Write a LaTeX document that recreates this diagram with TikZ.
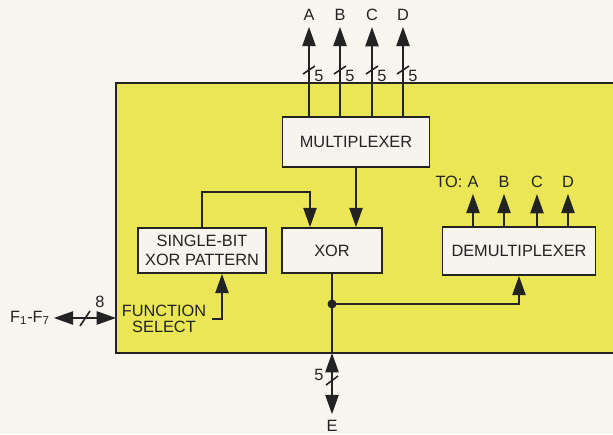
\documentclass[tikz,border=0pt]{standalone}
\usepackage{fontspec}
\setmainfont{Liberation Sans}
\usepackage{xcolor}
\definecolor{paper}{RGB}{247,245,238}
\definecolor{panelyel}{RGB}{234,230,86}
\definecolor{boxfill}{RGB}{246,244,236}
\definecolor{ink}{RGB}{35,35,35}
\usetikzlibrary{arrows.meta, positioning}

\tikzset{
  blk/.style={draw=ink, fill=boxfill, line width=1pt, align=center, inner sep=0pt,
              text=ink, font=\fontsize{9.3}{10.4}\selectfont},
  lbl/.style={text=ink, font=\fontsize{9.3}{10}\selectfont},
  wire/.style={draw=ink, line width=1.1pt},
  arr/.style={wire, -{Triangle[width=7.5pt,length=11pt]}},
  darr/.style={wire, {Triangle[width=7.5pt,length=11pt]}-{Triangle[width=7.5pt,length=11pt]}},
  slash/.style={draw=ink, line width=0.9pt},
}

\begin{document}
\begin{tikzpicture}[x=0.02cm, y=-0.02cm]
  \useasboundingbox (0,0) rectangle (613,434);
  \fill[paper] (0,0) rectangle (613,434);

  % Yellow panel (runs off the right edge)
  \fill[panelyel] (116,83) rectangle (613,353);
  \draw[ink, line width=1.2pt] (613,83) -- (116,83) -- (116,353) -- (613,353);
  \coordinate (fin) at (116,318);
  \coordinate (ebot) at (332,353);

  % --- Blocks ---
  \node[blk, minimum width=2.94cm, minimum height=1.0cm] (mux) at (356,142) {MULTIPLEXER};
  \node[blk, minimum width=2.0cm, minimum height=0.9cm] (xor) at (332,250.5) {XOR};
  \node[blk, minimum width=2.56cm, minimum height=0.9cm] (sbx) at (202,250.5) {SINGLE-BIT\\XOR PATTERN};
  \node[blk, minimum width=3.06cm, minimum height=0.96cm] (demux) at (519,251) {DEMULTIPLEXER};

  % --- Outputs A-D from multiplexer ---
  \node[lbl] (oa) at (309,15) {A};
  \node[lbl] (ob) at (340,15) {B};
  \node[lbl] (oc) at (372,15) {C};
  \node[lbl] (od) at (403,15) {D};
  \draw[arr] (oa |- mux.north) -- (oa);
  \draw[arr] (ob |- mux.north) -- (ob);
  \draw[arr] (oc |- mux.north) -- (oc);
  \draw[arr] (od |- mux.north) -- (od);
  \draw[slash] (303,74) -- (315,66);
  \draw[slash] (334,74) -- (346,66);
  \draw[slash] (366,74) -- (378,66);
  \draw[slash] (397,74) -- (409,66);
  \node[lbl] (na) at (319,76) {5};
  \node[lbl] (nb) at (350,76) {5};
  \node[lbl] (nc) at (382,76) {5};
  \node[lbl] (nd) at (413,76) {5};

  % --- Into XOR ---
  \draw[arr] (mux.south) -- (mux.south |- xor.north);
  \draw[arr] (sbx.north) -- ++(0,-35) -| ([xshift=-0.44cm]xor.north);

  % --- Function select ---
  \node[lbl, align=center, font=\fontsize{9.3}{9.2}\selectfont] (fsel) at (164,319) {FUNCTION\\SELECT};
  \draw[arr] (fsel.east) -| ([xshift=0.4cm]sbx.south);
  \node[lbl, inner sep=2pt] (lf) at (30,318) {F\textsubscript{1}-F\textsubscript{7}};
  \draw[darr] (lf.east |- fin) -- (fin);
  \draw[slash] (80,326) -- (90,311);
  \node[lbl] (n8) at (100,302) {8};

  % --- XOR output, junction to demultiplexer ---
  \coordinate (jn) at (332,304);
  \draw[wire] (xor.south) -- (jn) -- (ebot);
  \fill[ink] (jn) circle (4.5);
  \draw[arr] (jn) -| (demux.south);

  % --- Demultiplexer outputs ---
  \node[lbl] (to) at (449,182) {TO:};
  \node[lbl] (ta) at (473,182) {A};
  \node[lbl] (tb) at (504,182) {B};
  \node[lbl] (tc) at (537,182) {C};
  \node[lbl] (td) at (568,182) {D};
  \draw[arr] (ta |- demux.north) -- (ta);
  \draw[arr] (tb |- demux.north) -- (tb);
  \draw[arr] (tc |- demux.north) -- (tc);
  \draw[arr] (td |- demux.north) -- (td);

  % --- Output E ---
  \node[lbl] (le) at (332,426) {E};
  \draw[darr] (ebot) -- (le);
  \draw[slash] (326,385) -- (338,376);
  \node[lbl] (n5) at (319,375) {5};
\end{tikzpicture}
\end{document}
